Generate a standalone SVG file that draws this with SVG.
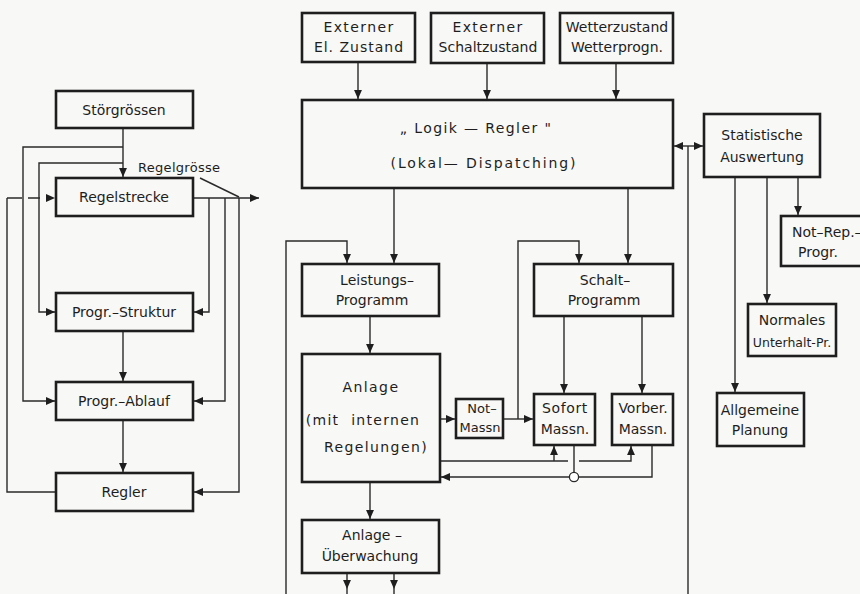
<svg xmlns="http://www.w3.org/2000/svg" width="860" height="594" viewBox="0 0 860 594">
<style>
.box{fill:none;stroke:#1e1e1e;stroke-width:2.6}
.c{fill:none;stroke:#2a2a2a;stroke-width:1.4}
.a{marker-end:url(#ah)}
text{font-family:"DejaVu Sans","Liberation Sans",sans-serif;font-size:14px;fill:#1e1e1e;text-anchor:middle}
.s{font-size:13px}
.xs{font-size:12.5px}
.sp{letter-spacing:1.4px}
</style>
<defs>
<marker id="ah" viewBox="0 0 10 10" refX="10" refY="5" markerWidth="9" markerHeight="9" markerUnits="userSpaceOnUse" orient="auto-start-reverse">
<path d="M0,0.6 L10,5 L0,9.4 z" fill="#1e1e1e"/>
</marker>
</defs>
<rect width="860" height="594" fill="#f8f8f6"/>

<g id="connectors">
<path class="c a" d="M123,128 V177"/>
<path class="c a" d="M123,147 H23 V401 H55"/>
<path class="c a" d="M123,163 H39 V312 H55"/>
<path class="c a" d="M193,198 H259"/>
<path class="c a" d="M209,198 V312 H194"/>
<path class="c a" d="M225,198 V401 H194"/>
<path class="c a" d="M239,198 V492 H194"/>
<path class="c a" d="M123,331 V381"/>
<path class="c a" d="M123,420 V472"/>
<path class="c" d="M56,492 H7 V198"/>
<path class="c a" d="M7,198 H55" stroke-dasharray="15 6 12 20"/>
<path class="c" d="M200,178 L239,197" stroke-width="1"/>

<path class="c a" d="M358,62 V99"/>
<path class="c a" d="M487,63 V99"/>
<path class="c a" d="M616,63 V99"/>
<path class="c a" d="M394,188 V263"/>
<path class="c a" d="M628,188 V263"/>
<path class="c a" d="M286,594 V241 H347 V263"/>
<path class="c a" d="M518,419 V241 H579 V263"/>
<path class="c a" d="M370,316 V353"/>
<path class="c a" d="M564,316 V393"/>
<path class="c a" d="M642,316 V393"/>
<path class="c a" d="M441,419 H455"/>
<path class="c a" d="M503,419 H533"/>
<path class="c" d="M441,461 H568"/>
<path class="c a" d="M554,461 V446"/>
<path class="c a" d="M579,461 H631 V446"/>
<path class="c" d="M574,445 V472.5"/>
<circle cx="574" cy="477" r="4.6" fill="#fff" stroke="#2a2a2a" stroke-width="1.3"/>
<path class="c" d="M652,445 V477 H578.6"/>
<path class="c a" d="M569.4,477 H441"/>
<path class="c a" d="M370,482 V519"/>
<path class="c a" d="M347,573 V589"/>
<path class="c a" d="M394,573 V589"/>
<path class="c" d="M347,589 V594 M394,589 V594"/>
<path class="c" d="M688,146 V594"/>
<path class="c" d="M674,146 H703" marker-start="url(#ah)" marker-end="url(#ah)"/>

<path class="c a" d="M735,177 V392"/>
<path class="c a" d="M767,177 V303"/>
<path class="c a" d="M798,177 V215"/>
</g>

<text class="s" x="138" y="172" style="text-anchor:start;letter-spacing:0.3px">Regelgrösse</text>

<g id="stoergroessen"><rect class="box" x="56" y="91" width="137" height="37"/><text x="124" y="115">Störgrössen</text></g>
<g id="regelstrecke"><rect class="box" x="56" y="178" width="137" height="38"/><text x="124" y="202">Regelstrecke</text></g>
<g id="progr-struktur"><rect class="box" x="56" y="293" width="137" height="38"/><text x="124" y="317">Progr.–Struktur</text></g>
<g id="progr-ablauf"><rect class="box" x="56" y="382" width="137" height="38"/><text x="124" y="406">Progr.–Ablauf</text></g>
<g id="regler"><rect class="box" x="56" y="473" width="137" height="38"/><text x="124" y="497">Regler</text></g>

<g id="ext-el"><rect class="box" x="302" y="13" width="113" height="49"/><text class="sp" x="359" y="32">Externer</text><text x="359" y="52" style="letter-spacing:1px">El. Zustand</text></g>
<g id="ext-schalt"><rect class="box" x="431" y="13" width="113" height="50"/><text class="sp" x="488" y="32">Externer</text><text x="488" y="52">Schaltzustand</text></g>
<g id="wetter"><rect class="box" x="560" y="13" width="113" height="50"/><text x="617" y="32">Wetterzustand</text><text x="617" y="52">Wetterprogn.</text></g>

<g id="logik-regler"><rect class="box" x="302" y="100" width="371" height="88"/><text class="sp" x="476" y="133">„ Logik — Regler "</text><text x="484" y="168" style="letter-spacing:1.9px">(Lokal— Dispatching)</text></g>

<g id="leistungs-programm"><rect class="box" x="302" y="264" width="137" height="52"/><text x="377" y="285">Leistungs–</text><text x="372" y="305">Programm</text></g>
<g id="schalt-programm"><rect class="box" x="534" y="264" width="139" height="52"/><text x="605" y="285">Schalt–</text><text x="604" y="305">Programm</text></g>
<g id="anlage"><rect class="box" x="302" y="354" width="138" height="128"/><text class="sp" x="371" y="392">Anlage</text><text x="363" y="425" style="letter-spacing:1.3px;word-spacing:6px">(mit internen</text><text class="sp" x="376" y="452">Regelungen)</text></g>
<g id="not-massn"><rect class="box" x="456" y="399" width="47" height="39"/><text class="s" x="482" y="413">Not–</text><text class="s" x="480" y="432">Massn</text></g>
<g id="sofort-massn"><rect class="box" x="534" y="394" width="61" height="51"/><text x="565" y="413" style="letter-spacing:0.6px">Sofort</text><text x="565" y="434">Massn.</text></g>
<g id="vorber-massn"><rect class="box" x="612" y="394" width="61" height="51"/><text x="643" y="413">Vorber.</text><text x="643" y="434">Massn.</text></g>
<g id="anlage-ueberwachung"><rect class="box" x="302" y="520" width="137" height="53"/><text x="372" y="540">Anlage –</text><text x="370" y="561">Überwachung</text></g>

<g id="statistische-auswertung"><rect class="box" x="704" y="114" width="116" height="63"/><text x="762" y="140">Statistische</text><text x="762" y="162">Auswertung</text></g>
<g id="not-rep-progr"><rect class="box" x="781" y="216" width="90" height="50"/><text x="792" y="237" style="text-anchor:start">Not–Rep.–</text><text x="798" y="257" style="text-anchor:start">Progr.</text></g>
<g id="normales-unterhalt"><rect class="box" x="748" y="304" width="88" height="52"/><text x="792" y="325">Normales</text><text class="xs" x="792" y="347">Unterhalt-Pr.</text></g>
<g id="allgemeine-planung"><rect class="box" x="717" y="393" width="87" height="53"/><text x="760" y="415">Allgemeine</text><text x="760" y="435">Planung</text></g>
</svg>
